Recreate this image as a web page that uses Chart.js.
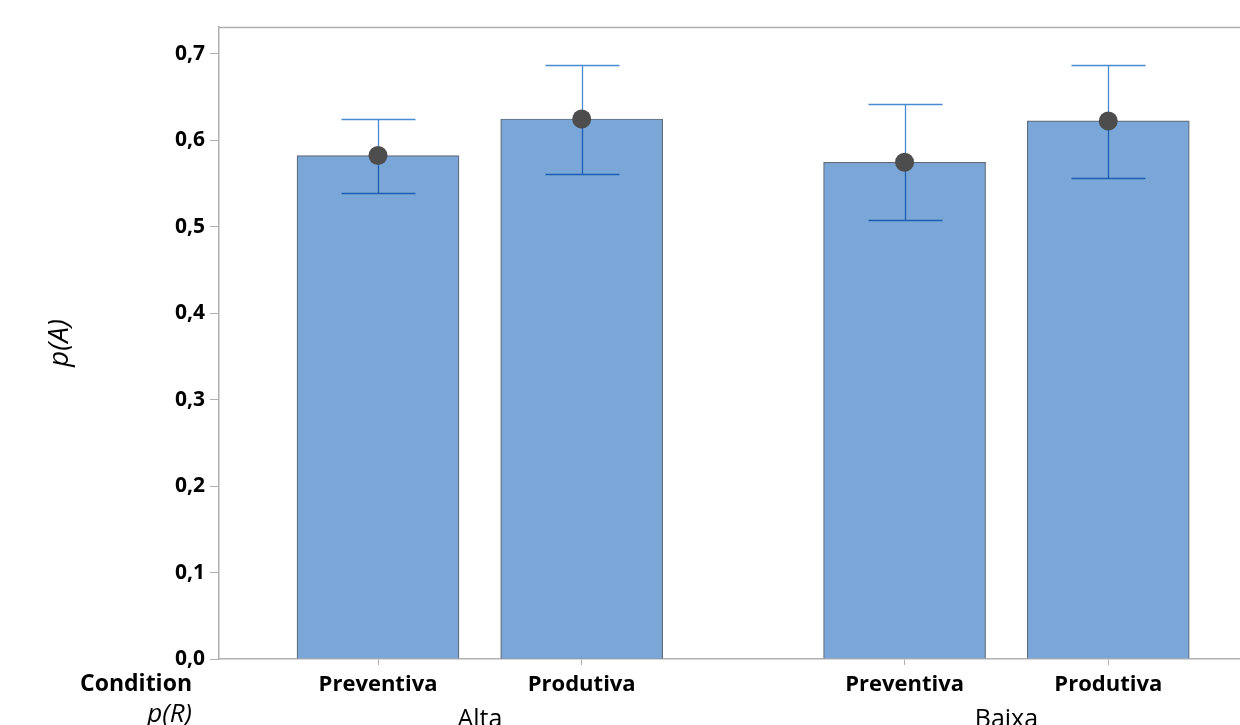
<!DOCTYPE html>
<html>
<head>
<meta charset="utf-8">
<script src="https://cdn.jsdelivr.net/npm/chart.js@4/dist/chart.umd.min.js"></script>
<style>
  html, body { margin: 0; padding: 0; background: #fff; overflow: hidden; }
  #wrap { width: 1240px; height: 725px; }
</style>
</head>
<body>
<div id="wrap"><canvas id="chartBar"></canvas></div>
<script>
  // data
  const groups = ['Alta', 'Baixa'];
  const conditions = ['Preventiva', 'Produtiva'];
  const means = [0.5825, 0.6248, 0.5747, 0.6225];
  const upper = [0.625, 0.6875, 0.6425, 0.6877];
  const lower = [0.539, 0.561, 0.5076, 0.5562];
  const yTicks = [0, 0.1, 0.2, 0.3, 0.4, 0.5, 0.6, 0.7];
  const rowLabels = ['Condition', 'p(R)'];

  // where each bar sits on the x axis (group gap wider than bar gap)
  const groupStep = 2.585;
  const xPos = [];
  const xLabels = [];
  groups.forEach((g, gi) => {
    conditions.forEach((c, ci) => {
      xPos.push(1 + gi * groupStep + ci);
      xLabels.push(c);
    });
  });
  const groupPos = groups.map((g, gi) => 1.5 + gi * groupStep);

  const fmt = v => v.toFixed(1).replace('.', ',');
  const axisGray = '#b0b0b0';

  // error bars under the dots
  const errorBars = {
    id: 'errorBars',
    afterDatasetDraw(chart, args) {
      if (args.index !== 1) return;
      const ctx = chart.ctx;
      const x = chart.scales.x, y = chart.scales.y;
      ctx.save();
      ctx.lineWidth = 1.3;
      xPos.forEach((p, i) => {
        const px = Math.round(x.getPixelForValue(p)) + 0.5;
        const ym = y.getPixelForValue(means[i]);
        const yh = Math.round(y.getPixelForValue(upper[i])) + 0.5;
        const yl = Math.round(y.getPixelForValue(lower[i])) + 0.5;
        ctx.strokeStyle = '#4a8ad2';
        ctx.beginPath();
        ctx.moveTo(px, ym); ctx.lineTo(px, yh);
        ctx.moveTo(px - 37, yh); ctx.lineTo(px + 37, yh);
        ctx.stroke();
        ctx.strokeStyle = '#1c5fb0';
        ctx.beginPath();
        ctx.moveTo(px, ym); ctx.lineTo(px, yl);
        ctx.moveTo(px - 37, yl); ctx.lineTo(px + 37, yl);
        ctx.stroke();
      });
      ctx.restore();
    }
  };

  // frame top line and the row captions at bottom left
  const extras = {
    id: 'extras',
    afterDraw(chart) {
      const ctx = chart.ctx;
      const a = chart.chartArea;
      ctx.save();
      ctx.strokeStyle = axisGray;
      ctx.lineWidth = 1.5;
      ctx.beginPath();
      ctx.moveTo(a.left, a.top + 0.5);
      ctx.lineTo(a.right, a.top + 0.5);
      ctx.stroke();
      ctx.fillStyle = '#000';
      ctx.textAlign = 'right';
      ctx.textBaseline = 'middle';
      ctx.font = 'bold 23px "Open Sans"';
      ctx.fillText(rowLabels[0], a.left - 27, 684);
      ctx.font = 'italic 26px "Open Sans"';
      ctx.fillText(rowLabels[1], a.left - 27, 715);
      ctx.restore();
    }
  };

  Chart.register(errorBars);

  const noPad = s => { s.paddingLeft = 0; s.paddingRight = 0; };

  const Bar = document.getElementById('chartBar').getContext('2d');
  const chartBar = new Chart(Bar, {
    type: 'bar',
    data: {
      datasets: [
        {
          type: 'scatter',
          data: xPos.map((p, i) => ({ x: p, y: means[i] })),
          pointRadius: 9.5,
          pointBackgroundColor: '#4d4d4d',
          pointBorderWidth: 0,
          showLine: false,
          clip: false,
          order: 0
        },
        {
          type: 'bar',
          data: xPos.map((p, i) => ({ x: p, y: means[i] })),
          backgroundColor: 'rgb(123, 166, 216)',
          borderColor: '#5f6b78',
          borderWidth: 1.2,
          barThickness: 162,
          order: 1
        }
      ]
    },
    plugins: [extras],
    options: {
      responsive: true,
      maintainAspectRatio: false,
      animation: false,
      layout: { autoPadding: false, padding: { top: 27, right: 0, bottom: 0, left: 0 } },
      plugins: {
        legend: { display: false },
        tooltip: { enabled: false }
      },
      scales: {
        x: {
          type: 'linear',
          offset: false,
          min: 0.2194,
          max: 5.2317,
          position: 'bottom',
          afterBuildTicks: s => { s.ticks = xPos.map(v => ({ value: v })); },
          afterFit: s => { s.height = 38; noPad(s); },
          grid: { offset: false, drawOnChartArea: false, drawTicks: true, tickLength: 6, color: axisGray },
          border: { color: axisGray, width: 1.5 },
          ticks: {
            autoSkip: false,
            maxRotation: 0,
            padding: 7,
            color: '#000',
            font: { family: 'Open Sans', size: 22, weight: 'bold' },
            callback: (v, i) => xLabels[i]
          }
        },
        x2: {
          type: 'linear',
          offset: false,
          min: 0.2194,
          max: 5.2317,
          position: 'bottom',
          afterBuildTicks: s => { s.ticks = groupPos.map(v => ({ value: v })); },
          afterFit: s => { s.height = 28; noPad(s); },
          grid: { display: false, offset: false },
          border: { display: false },
          ticks: {
            autoSkip: false,
            maxRotation: 0,
            padding: 0,
            color: '#000',
            font: { family: 'Open Sans', size: 25 },
            callback: (v, i) => groups[i]
          }
        },
        y: {
          min: 0,
          max: 0.7312,
          afterBuildTicks: s => { s.ticks = yTicks.map(v => ({ value: v })); },
          afterFit: s => { s.width = 219; },
          grid: { drawOnChartArea: false, drawTicks: true, tickLength: 9, color: axisGray },
          border: { color: axisGray, width: 1.5 },
          ticks: {
            padding: 5,
            color: '#000',
            font: { family: 'Open Sans', size: 21, weight: 'bold' },
            callback: v => fmt(v)
          },
          title: {
            display: true,
            text: 'p(A)',
            color: '#000',
            padding: { top: 43, bottom: 0 },
            font: { family: 'Open Sans', size: 28, style: 'italic' }
          }
        }
      }
    }
  });
</script>
</body>
</html>
